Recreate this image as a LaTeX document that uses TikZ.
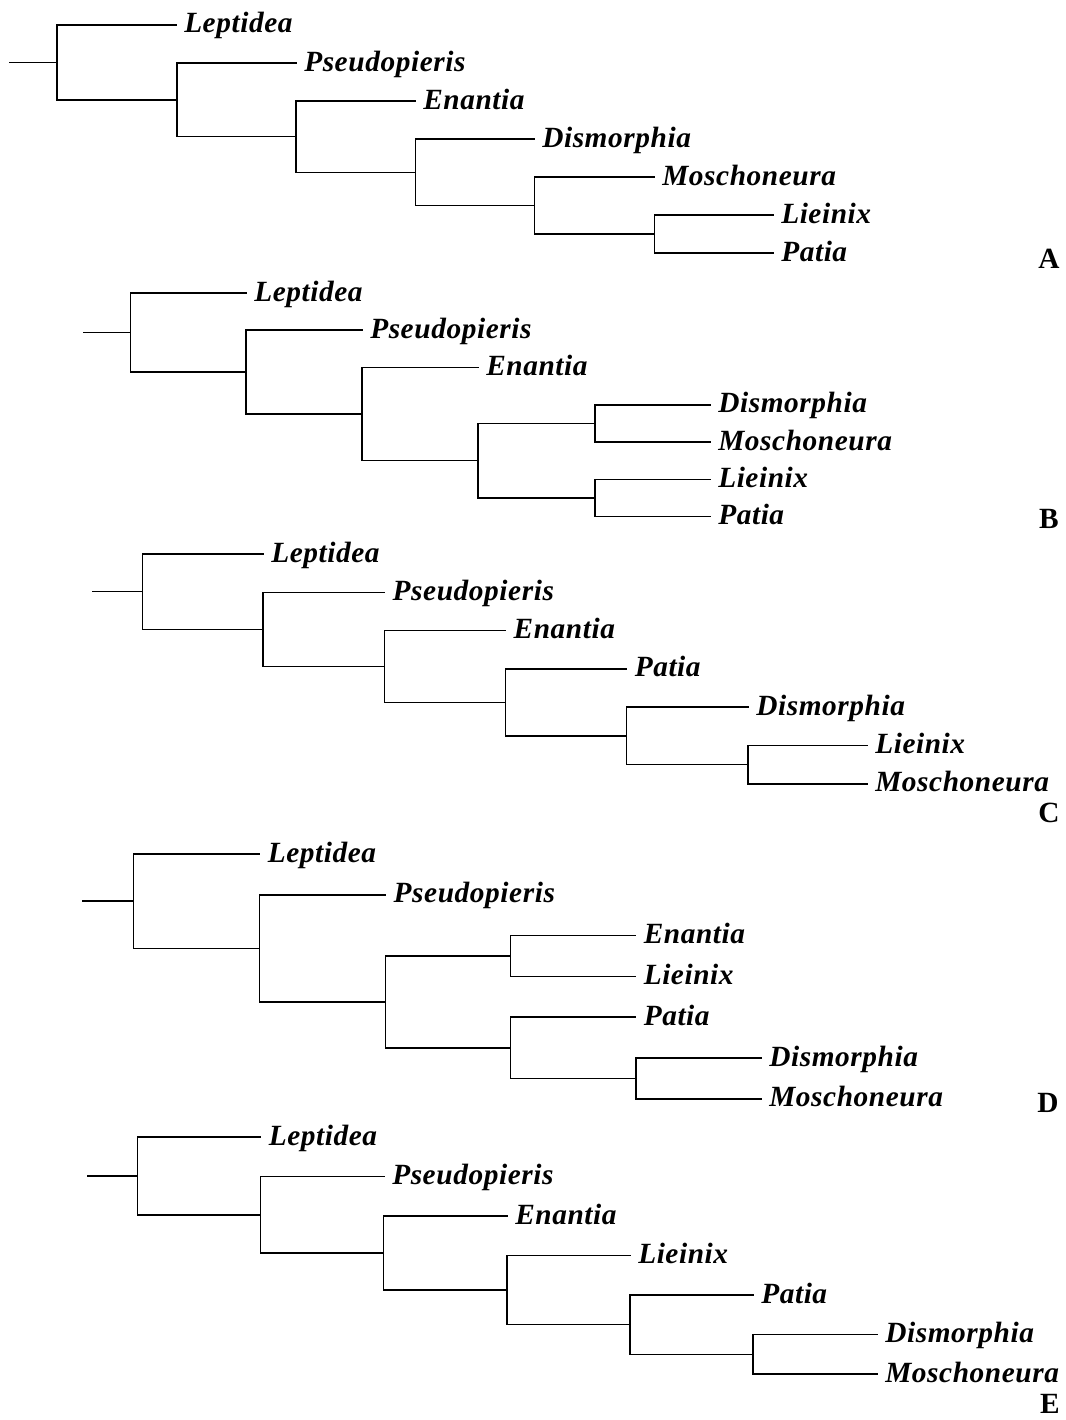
\documentclass[tikz,border=0pt]{standalone}
\usepackage{fontspec}
\setmainfont{Liberation Serif}
\newfontfamily\taxonfont[LetterSpace=2]{Liberation Serif}
\usepackage{tikz}

\begin{document}
\begin{tikzpicture}[
                x=0.75pt, y=-0.75pt,
                branch/.style={line width=1.1pt, line cap=rect},
                taxon/.style={anchor=west, inner xsep=6pt, inner ysep=0pt, text height=15pt, text depth=3pt, font=\taxonfont\fontsize{22}{26}\selectfont\bfseries\itshape},
                panel/.style={inner sep=0pt, font=\fontsize{22}{26}\selectfont\bfseries}
                ]
                \useasboundingbox (0,0) rectangle (1066,1420);

                % Arbore A
                \coordinate (a0) at (10,62.4);
                \coordinate (a1) at (57,62.4);
                \coordinate (a2) at (177,99.8);
                \coordinate (a3) at (296,136.6);
                \coordinate (a4) at (415.5,172.3);
                \coordinate (a5) at (534.5,205.5);
                \coordinate (a6) at (654.5,234);
                \node[taxon] (a-lep) at (176,25) {Leptidea};
                \node[taxon] (a-pse) at (296,63) {Pseudopieris};
                \node[taxon] (a-ena) at (415,101) {Enantia};
                \node[taxon] (a-dis) at (534,139) {Dismorphia};
                \node[taxon] (a-mos) at (654,177) {Moschoneura};
                \node[taxon] (a-lie) at (773,215) {Lieinix};
                \node[taxon] (a-pat) at (773,253) {Patia};
                \draw[branch] (a0) -- (a1);
                \draw[branch] (a1) |- (a-lep);  \draw[branch] (a1) |- (a2);
                \draw[branch] (a2) |- (a-pse);  \draw[branch] (a2) |- (a3);
                \draw[branch] (a3) |- (a-ena);  \draw[branch] (a3) |- (a4);
                \draw[branch] (a4) |- (a-dis);  \draw[branch] (a4) |- (a5);
                \draw[branch] (a5) |- (a-mos);  \draw[branch] (a5) |- (a6);
                \draw[branch] (a6) |- (a-lie);  \draw[branch] (a6) |- (a-pat);
                \node[panel] (lblA) at (1049,259) {A};

                % Arbore B
                \coordinate (b0) at (83.5,332.6);
                \coordinate (b1) at (130.6,332.6);
                \coordinate (b2) at (246,372.1);
                \coordinate (b3) at (362,414.1);
                \coordinate (b4) at (478,460.6);
                \coordinate (b-dm) at (595,423.4);
                \coordinate (b-lp) at (595,497.9);
                \node[taxon] (b-lep) at (246,293) {Leptidea};
                \node[taxon] (b-pse) at (362,330.2) {Pseudopieris};
                \node[taxon] (b-ena) at (478,367.5) {Enantia};
                \node[taxon] (b-dis) at (710,404.8) {Dismorphia};
                \node[taxon] (b-mos) at (710,442) {Moschoneura};
                \node[taxon] (b-lie) at (710,479.3) {Lieinix};
                \node[taxon] (b-pat) at (710,516.5) {Patia};
                \draw[branch] (b0) -- (b1);
                \draw[branch] (b1) |- (b-lep);  \draw[branch] (b1) |- (b2);
                \draw[branch] (b2) |- (b-pse);  \draw[branch] (b2) |- (b3);
                \draw[branch] (b3) |- (b-ena);  \draw[branch] (b3) |- (b4);
                \draw[branch] (b4) |- (b-dm);   \draw[branch] (b4) |- (b-lp);
                \draw[branch] (b-dm) |- (b-dis); \draw[branch] (b-dm) |- (b-mos);
                \draw[branch] (b-lp) |- (b-lie); \draw[branch] (b-lp) |- (b-pat);
                \node[panel] (lblB) at (1049,519) {B};

                % Arbore C
                \coordinate (c0) at (93,591.7);
                \coordinate (c1) at (142.6,591.7);
                \coordinate (c2) at (263,629.4);
                \coordinate (c3) at (384.4,666.5);
                \coordinate (c4) at (505.4,702.4);
                \coordinate (c5) at (626.5,735.9);
                \coordinate (c6) at (748,764.6);
                \node[taxon] (c-lep) at (263,554) {Leptidea};
                \node[taxon] (c-pse) at (384.4,592.3) {Pseudopieris};
                \node[taxon] (c-ena) at (505.4,630.6) {Enantia};
                \node[taxon] (c-pat) at (626.5,668.9) {Patia};
                \node[taxon] (c-dis) at (748,707.2) {Dismorphia};
                \node[taxon] (c-lie) at (867,745.5) {Lieinix};
                \node[taxon] (c-mos) at (867,783.8) {Moschoneura};
                \draw[branch] (c0) -- (c1);
                \draw[branch] (c1) |- (c-lep);  \draw[branch] (c1) |- (c2);
                \draw[branch] (c2) |- (c-pse);  \draw[branch] (c2) |- (c3);
                \draw[branch] (c3) |- (c-ena);  \draw[branch] (c3) |- (c4);
                \draw[branch] (c4) |- (c-pat);  \draw[branch] (c4) |- (c5);
                \draw[branch] (c5) |- (c-dis);  \draw[branch] (c5) |- (c6);
                \draw[branch] (c6) |- (c-lie);  \draw[branch] (c6) |- (c-mos);
                \node[panel] (lblC) at (1049,813) {C};

                % Arbore D
                \coordinate (d0) at (82.4,901.2);
                \coordinate (d1) at (133.3,901.2);
                \coordinate (d2) at (259.5,948.4);
                \coordinate (d3) at (385.4,1001.9);
                \coordinate (d-el) at (510.4,956);
                \coordinate (d-pdm) at (510.4,1047.8);
                \coordinate (d-dm) at (636,1078.4);
                \node[taxon] (d-lep) at (259.5,854) {Leptidea};
                \node[taxon] (d-pse) at (385.4,894.8) {Pseudopieris};
                \node[taxon] (d-ena) at (635.5,935.6) {Enantia};
                \node[taxon] (d-lie) at (635.5,976.4) {Lieinix};
                \node[taxon] (d-pat) at (635.5,1017.2) {Patia};
                \node[taxon] (d-dis) at (761,1058) {Dismorphia};
                \node[taxon] (d-mos) at (761,1098.8) {Moschoneura};
                \draw[branch] (d0) -- (d1);
                \draw[branch] (d1) |- (d-lep);  \draw[branch] (d1) |- (d2);
                \draw[branch] (d2) |- (d-pse);  \draw[branch] (d2) |- (d3);
                \draw[branch] (d3) |- (d-el);   \draw[branch] (d3) |- (d-pdm);
                \draw[branch] (d-el) |- (d-ena); \draw[branch] (d-el) |- (d-lie);
                \draw[branch] (d-pdm) |- (d-pat); \draw[branch] (d-pdm) |- (d-dm);
                \draw[branch] (d-dm) |- (d-dis); \draw[branch] (d-dm) |- (d-mos);
                \node[panel] (lblD) at (1048,1103) {D};

                % Arbore E
                \coordinate (e0) at (88.2,1175.9);
                \coordinate (e1) at (137.5,1175.9);
                \coordinate (e2) at (260.4,1214.8);
                \coordinate (e3) at (383.7,1253);
                \coordinate (e4) at (507,1290.1);
                \coordinate (e5) at (630,1324.6);
                \coordinate (e6) at (752.8,1354.3);
                \node[taxon] (e-lep) at (260.5,1137) {Leptidea};
                \node[taxon] (e-pse) at (384,1176.5) {Pseudopieris};
                \node[taxon] (e-ena) at (507,1216) {Enantia};
                \node[taxon] (e-lie) at (630,1255.5) {Lieinix};
                \node[taxon] (e-pat) at (753,1295) {Patia};
                \node[taxon] (e-dis) at (877,1334.5) {Dismorphia};
                \node[taxon] (e-mos) at (877,1374) {Moschoneura};
                \draw[branch] (e0) -- (e1);
                \draw[branch] (e1) |- (e-lep);  \draw[branch] (e1) |- (e2);
                \draw[branch] (e2) |- (e-pse);  \draw[branch] (e2) |- (e3);
                \draw[branch] (e3) |- (e-ena);  \draw[branch] (e3) |- (e4);
                \draw[branch] (e4) |- (e-lie);  \draw[branch] (e4) |- (e5);
                \draw[branch] (e5) |- (e-pat);  \draw[branch] (e5) |- (e6);
                \draw[branch] (e6) |- (e-dis);  \draw[branch] (e6) |- (e-mos);
                \node[panel] (lblE) at (1050,1404) {E};

                \end{tikzpicture}
\end{document}
